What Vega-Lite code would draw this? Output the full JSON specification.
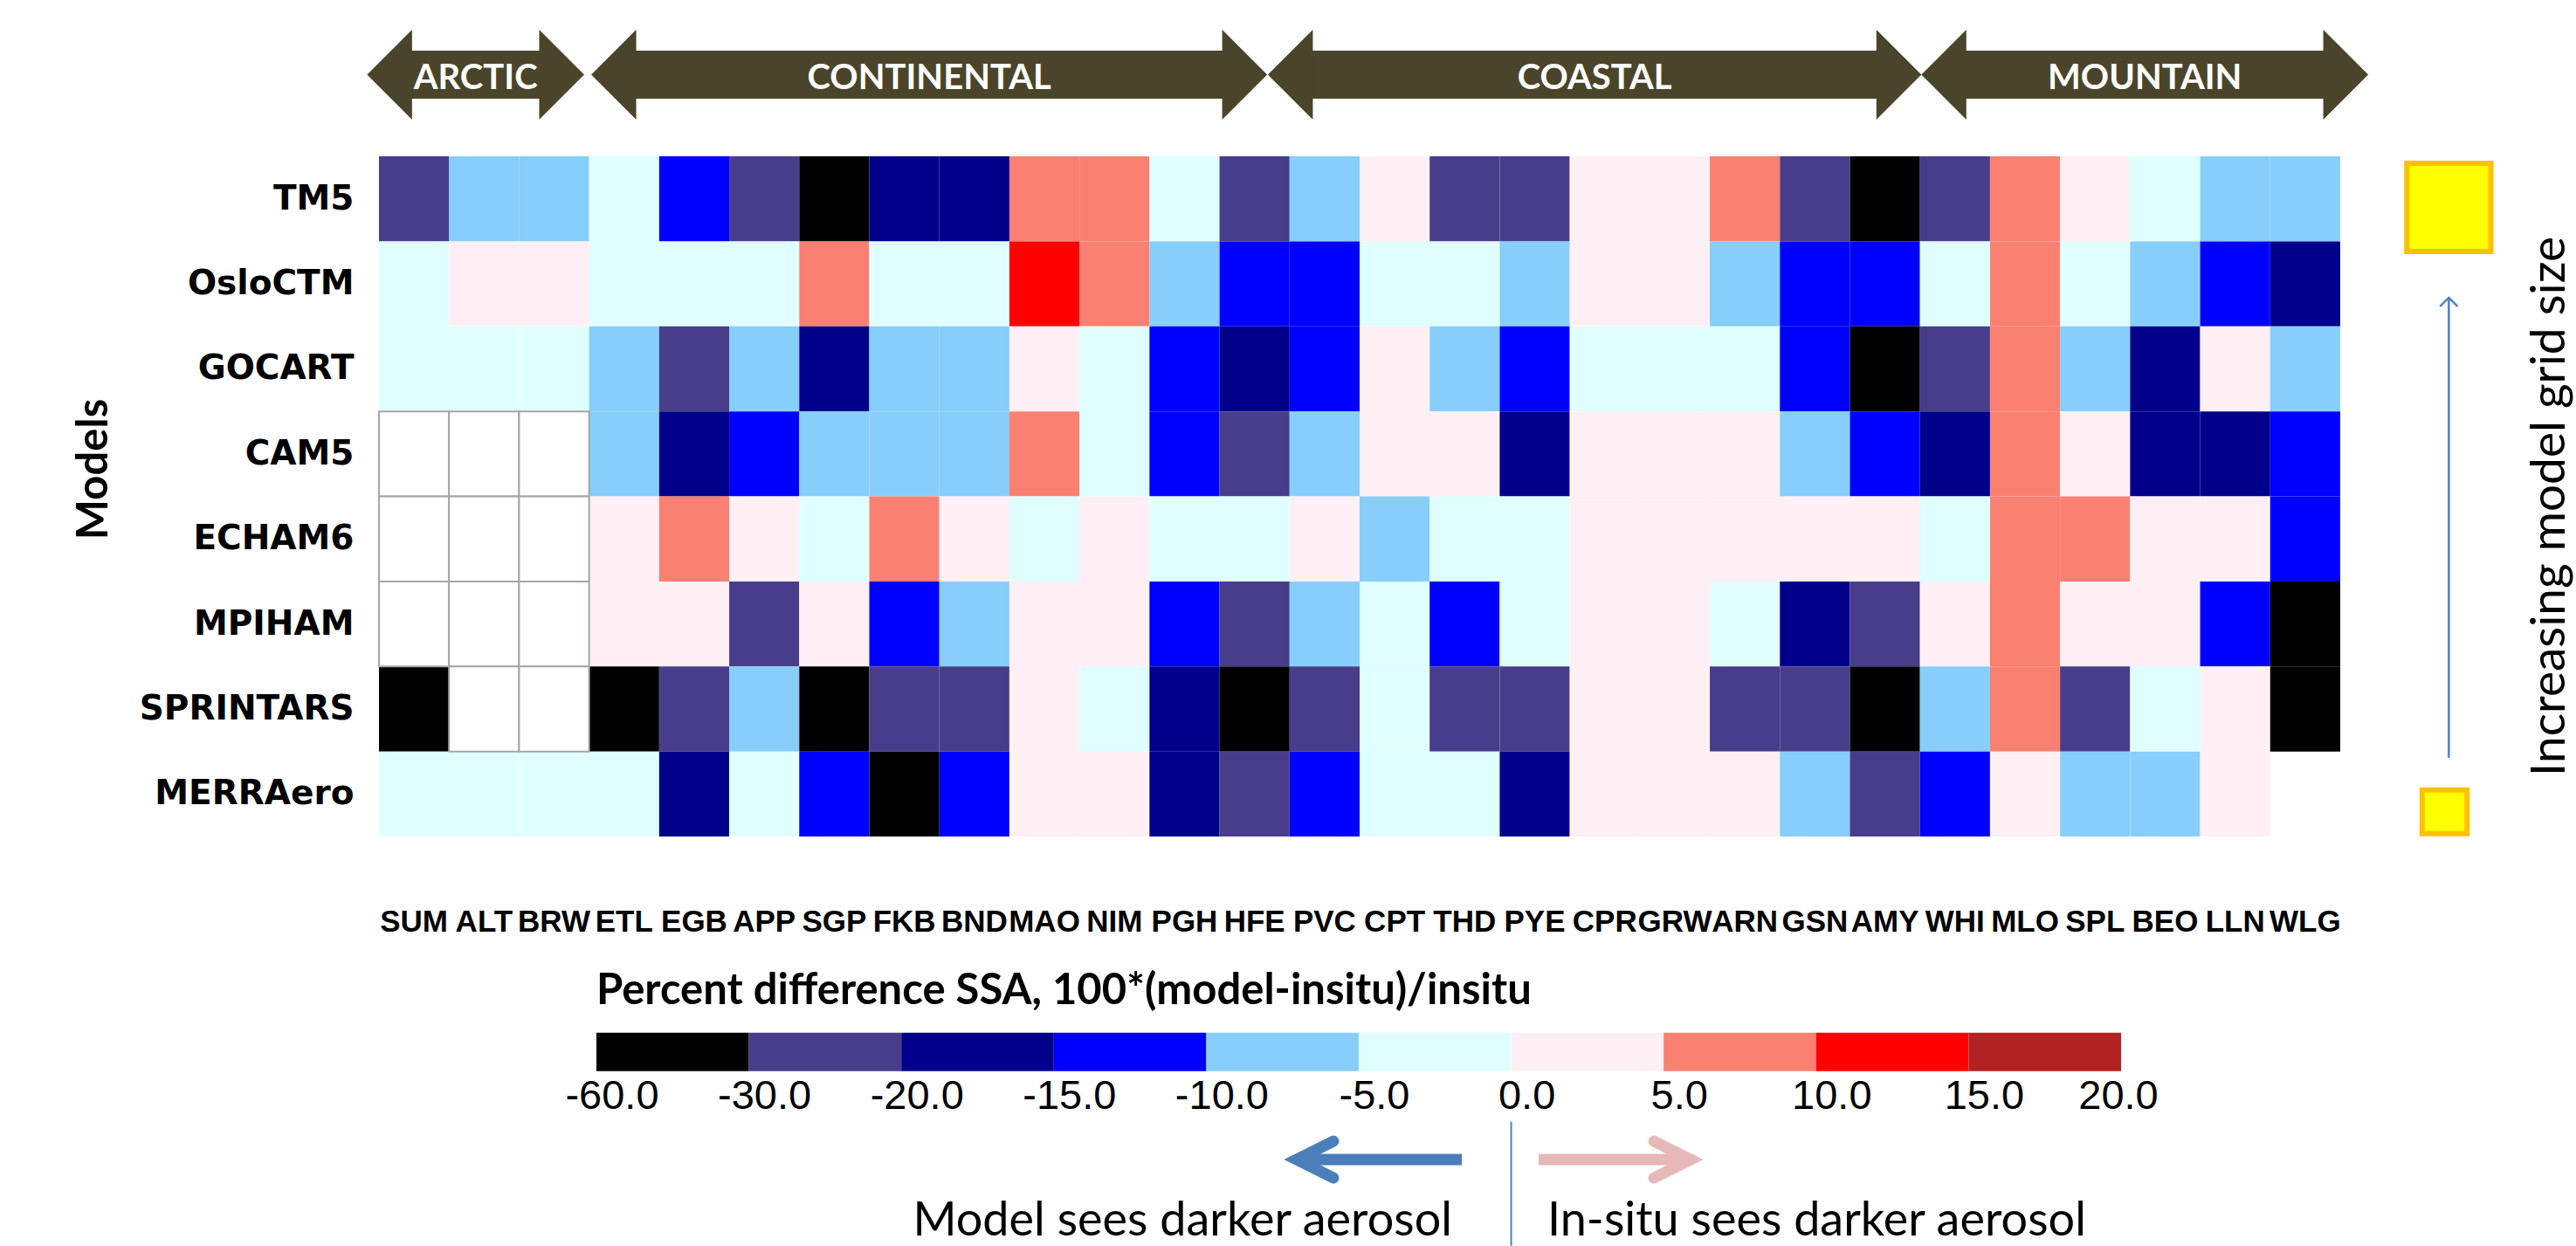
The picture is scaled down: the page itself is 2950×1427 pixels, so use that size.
{
"$schema": "https://vega.github.io/schema/vega-lite/v6.json",
"width": 2246,
"height": 779,
"autosize": {"type": "none"},
"padding": {"left": 434, "top": 179, "right": 270, "bottom": 469},
"background": "white",
"config": {"view": {"stroke": null}},
"resolve": {"scale": {"x": "independent", "y": "independent", "color": "independent"}},
"layer": [
{
"data": {"values": [
{"model":"TM5","station":"SUM","pct":-25},{"model":"TM5","station":"ALT","pct":-7},{"model":"TM5","station":"BRW","pct":-7},{"model":"TM5","station":"ETL","pct":-2},{"model":"TM5","station":"EGB","pct":-12},{"model":"TM5","station":"APP","pct":-25},{"model":"TM5","station":"SGP","pct":-40},{"model":"TM5","station":"FKB","pct":-17},{"model":"TM5","station":"BND","pct":-17},{"model":"TM5","station":"MAO","pct":7},{"model":"TM5","station":"NIM","pct":7},{"model":"TM5","station":"PGH","pct":-2},{"model":"TM5","station":"HFE","pct":-25},{"model":"TM5","station":"PVC","pct":-7},{"model":"TM5","station":"CPT","pct":2},{"model":"TM5","station":"THD","pct":-25},{"model":"TM5","station":"PYE","pct":-25},{"model":"TM5","station":"CPR","pct":2},{"model":"TM5","station":"GRW","pct":2},{"model":"TM5","station":"ARN","pct":7},{"model":"TM5","station":"GSN","pct":-25},{"model":"TM5","station":"AMY","pct":-40},{"model":"TM5","station":"WHI","pct":-25},{"model":"TM5","station":"MLO","pct":7},{"model":"TM5","station":"SPL","pct":2},{"model":"TM5","station":"BEO","pct":-2},{"model":"TM5","station":"LLN","pct":-7},{"model":"TM5","station":"WLG","pct":-7},
{"model":"OsloCTM","station":"SUM","pct":-2},{"model":"OsloCTM","station":"ALT","pct":2},{"model":"OsloCTM","station":"BRW","pct":2},{"model":"OsloCTM","station":"ETL","pct":-2},{"model":"OsloCTM","station":"EGB","pct":-2},{"model":"OsloCTM","station":"APP","pct":-2},{"model":"OsloCTM","station":"SGP","pct":7},{"model":"OsloCTM","station":"FKB","pct":-2},{"model":"OsloCTM","station":"BND","pct":-2},{"model":"OsloCTM","station":"MAO","pct":12},{"model":"OsloCTM","station":"NIM","pct":7},{"model":"OsloCTM","station":"PGH","pct":-7},{"model":"OsloCTM","station":"HFE","pct":-12},{"model":"OsloCTM","station":"PVC","pct":-12},{"model":"OsloCTM","station":"CPT","pct":-2},{"model":"OsloCTM","station":"THD","pct":-2},{"model":"OsloCTM","station":"PYE","pct":-7},{"model":"OsloCTM","station":"CPR","pct":2},{"model":"OsloCTM","station":"GRW","pct":2},{"model":"OsloCTM","station":"ARN","pct":-7},{"model":"OsloCTM","station":"GSN","pct":-12},{"model":"OsloCTM","station":"AMY","pct":-12},{"model":"OsloCTM","station":"WHI","pct":-2},{"model":"OsloCTM","station":"MLO","pct":7},{"model":"OsloCTM","station":"SPL","pct":-2},{"model":"OsloCTM","station":"BEO","pct":-7},{"model":"OsloCTM","station":"LLN","pct":-12},{"model":"OsloCTM","station":"WLG","pct":-17},
{"model":"GOCART","station":"SUM","pct":-2},{"model":"GOCART","station":"ALT","pct":-2},{"model":"GOCART","station":"BRW","pct":-2},{"model":"GOCART","station":"ETL","pct":-7},{"model":"GOCART","station":"EGB","pct":-25},{"model":"GOCART","station":"APP","pct":-7},{"model":"GOCART","station":"SGP","pct":-17},{"model":"GOCART","station":"FKB","pct":-7},{"model":"GOCART","station":"BND","pct":-7},{"model":"GOCART","station":"MAO","pct":2},{"model":"GOCART","station":"NIM","pct":-2},{"model":"GOCART","station":"PGH","pct":-12},{"model":"GOCART","station":"HFE","pct":-17},{"model":"GOCART","station":"PVC","pct":-12},{"model":"GOCART","station":"CPT","pct":2},{"model":"GOCART","station":"THD","pct":-7},{"model":"GOCART","station":"PYE","pct":-12},{"model":"GOCART","station":"CPR","pct":-2},{"model":"GOCART","station":"GRW","pct":-2},{"model":"GOCART","station":"ARN","pct":-2},{"model":"GOCART","station":"GSN","pct":-12},{"model":"GOCART","station":"AMY","pct":-40},{"model":"GOCART","station":"WHI","pct":-25},{"model":"GOCART","station":"MLO","pct":7},{"model":"GOCART","station":"SPL","pct":-7},{"model":"GOCART","station":"BEO","pct":-17},{"model":"GOCART","station":"LLN","pct":2},{"model":"GOCART","station":"WLG","pct":-7},
{"model":"CAM5","station":"SUM","pct":null},{"model":"CAM5","station":"ALT","pct":null},{"model":"CAM5","station":"BRW","pct":null},{"model":"CAM5","station":"ETL","pct":-7},{"model":"CAM5","station":"EGB","pct":-17},{"model":"CAM5","station":"APP","pct":-12},{"model":"CAM5","station":"SGP","pct":-7},{"model":"CAM5","station":"FKB","pct":-7},{"model":"CAM5","station":"BND","pct":-7},{"model":"CAM5","station":"MAO","pct":7},{"model":"CAM5","station":"NIM","pct":-2},{"model":"CAM5","station":"PGH","pct":-12},{"model":"CAM5","station":"HFE","pct":-25},{"model":"CAM5","station":"PVC","pct":-7},{"model":"CAM5","station":"CPT","pct":2},{"model":"CAM5","station":"THD","pct":2},{"model":"CAM5","station":"PYE","pct":-17},{"model":"CAM5","station":"CPR","pct":2},{"model":"CAM5","station":"GRW","pct":2},{"model":"CAM5","station":"ARN","pct":2},{"model":"CAM5","station":"GSN","pct":-7},{"model":"CAM5","station":"AMY","pct":-12},{"model":"CAM5","station":"WHI","pct":-17},{"model":"CAM5","station":"MLO","pct":7},{"model":"CAM5","station":"SPL","pct":2},{"model":"CAM5","station":"BEO","pct":-17},{"model":"CAM5","station":"LLN","pct":-17},{"model":"CAM5","station":"WLG","pct":-12},
{"model":"ECHAM6","station":"SUM","pct":null},{"model":"ECHAM6","station":"ALT","pct":null},{"model":"ECHAM6","station":"BRW","pct":null},{"model":"ECHAM6","station":"ETL","pct":2},{"model":"ECHAM6","station":"EGB","pct":7},{"model":"ECHAM6","station":"APP","pct":2},{"model":"ECHAM6","station":"SGP","pct":-2},{"model":"ECHAM6","station":"FKB","pct":7},{"model":"ECHAM6","station":"BND","pct":2},{"model":"ECHAM6","station":"MAO","pct":-2},{"model":"ECHAM6","station":"NIM","pct":2},{"model":"ECHAM6","station":"PGH","pct":-2},{"model":"ECHAM6","station":"HFE","pct":-2},{"model":"ECHAM6","station":"PVC","pct":2},{"model":"ECHAM6","station":"CPT","pct":-7},{"model":"ECHAM6","station":"THD","pct":-2},{"model":"ECHAM6","station":"PYE","pct":-2},{"model":"ECHAM6","station":"CPR","pct":2},{"model":"ECHAM6","station":"GRW","pct":2},{"model":"ECHAM6","station":"ARN","pct":2},{"model":"ECHAM6","station":"GSN","pct":2},{"model":"ECHAM6","station":"AMY","pct":2},{"model":"ECHAM6","station":"WHI","pct":-2},{"model":"ECHAM6","station":"MLO","pct":7},{"model":"ECHAM6","station":"SPL","pct":7},{"model":"ECHAM6","station":"BEO","pct":2},{"model":"ECHAM6","station":"LLN","pct":2},{"model":"ECHAM6","station":"WLG","pct":-12},
{"model":"MPIHAM","station":"SUM","pct":null},{"model":"MPIHAM","station":"ALT","pct":null},{"model":"MPIHAM","station":"BRW","pct":null},{"model":"MPIHAM","station":"ETL","pct":2},{"model":"MPIHAM","station":"EGB","pct":2},{"model":"MPIHAM","station":"APP","pct":-25},{"model":"MPIHAM","station":"SGP","pct":2},{"model":"MPIHAM","station":"FKB","pct":-12},{"model":"MPIHAM","station":"BND","pct":-7},{"model":"MPIHAM","station":"MAO","pct":2},{"model":"MPIHAM","station":"NIM","pct":2},{"model":"MPIHAM","station":"PGH","pct":-12},{"model":"MPIHAM","station":"HFE","pct":-25},{"model":"MPIHAM","station":"PVC","pct":-7},{"model":"MPIHAM","station":"CPT","pct":-2},{"model":"MPIHAM","station":"THD","pct":-12},{"model":"MPIHAM","station":"PYE","pct":-2},{"model":"MPIHAM","station":"CPR","pct":2},{"model":"MPIHAM","station":"GRW","pct":2},{"model":"MPIHAM","station":"ARN","pct":-2},{"model":"MPIHAM","station":"GSN","pct":-17},{"model":"MPIHAM","station":"AMY","pct":-25},{"model":"MPIHAM","station":"WHI","pct":2},{"model":"MPIHAM","station":"MLO","pct":7},{"model":"MPIHAM","station":"SPL","pct":2},{"model":"MPIHAM","station":"BEO","pct":2},{"model":"MPIHAM","station":"LLN","pct":-12},{"model":"MPIHAM","station":"WLG","pct":-40},
{"model":"SPRINTARS","station":"SUM","pct":-40},{"model":"SPRINTARS","station":"ALT","pct":null},{"model":"SPRINTARS","station":"BRW","pct":null},{"model":"SPRINTARS","station":"ETL","pct":-40},{"model":"SPRINTARS","station":"EGB","pct":-25},{"model":"SPRINTARS","station":"APP","pct":-7},{"model":"SPRINTARS","station":"SGP","pct":-40},{"model":"SPRINTARS","station":"FKB","pct":-25},{"model":"SPRINTARS","station":"BND","pct":-25},{"model":"SPRINTARS","station":"MAO","pct":2},{"model":"SPRINTARS","station":"NIM","pct":-2},{"model":"SPRINTARS","station":"PGH","pct":-17},{"model":"SPRINTARS","station":"HFE","pct":-40},{"model":"SPRINTARS","station":"PVC","pct":-25},{"model":"SPRINTARS","station":"CPT","pct":-2},{"model":"SPRINTARS","station":"THD","pct":-25},{"model":"SPRINTARS","station":"PYE","pct":-25},{"model":"SPRINTARS","station":"CPR","pct":2},{"model":"SPRINTARS","station":"GRW","pct":2},{"model":"SPRINTARS","station":"ARN","pct":-25},{"model":"SPRINTARS","station":"GSN","pct":-25},{"model":"SPRINTARS","station":"AMY","pct":-40},{"model":"SPRINTARS","station":"WHI","pct":-7},{"model":"SPRINTARS","station":"MLO","pct":7},{"model":"SPRINTARS","station":"SPL","pct":-25},{"model":"SPRINTARS","station":"BEO","pct":-2},{"model":"SPRINTARS","station":"LLN","pct":2},{"model":"SPRINTARS","station":"WLG","pct":-40},
{"model":"MERRAero","station":"SUM","pct":-2},{"model":"MERRAero","station":"ALT","pct":-2},{"model":"MERRAero","station":"BRW","pct":-2},{"model":"MERRAero","station":"ETL","pct":-2},{"model":"MERRAero","station":"EGB","pct":-17},{"model":"MERRAero","station":"APP","pct":-2},{"model":"MERRAero","station":"SGP","pct":-12},{"model":"MERRAero","station":"FKB","pct":-40},{"model":"MERRAero","station":"BND","pct":-12},{"model":"MERRAero","station":"MAO","pct":2},{"model":"MERRAero","station":"NIM","pct":2},{"model":"MERRAero","station":"PGH","pct":-17},{"model":"MERRAero","station":"HFE","pct":-25},{"model":"MERRAero","station":"PVC","pct":-12},{"model":"MERRAero","station":"CPT","pct":-2},{"model":"MERRAero","station":"THD","pct":-2},{"model":"MERRAero","station":"PYE","pct":-17},{"model":"MERRAero","station":"CPR","pct":2},{"model":"MERRAero","station":"GRW","pct":2},{"model":"MERRAero","station":"ARN","pct":2},{"model":"MERRAero","station":"GSN","pct":-7},{"model":"MERRAero","station":"AMY","pct":-25},{"model":"MERRAero","station":"WHI","pct":-12},{"model":"MERRAero","station":"MLO","pct":2},{"model":"MERRAero","station":"SPL","pct":-7},{"model":"MERRAero","station":"BEO","pct":-7},{"model":"MERRAero","station":"LLN","pct":2}
]},
"layer": [
{
"transform": [{"filter": "isValid(datum.pct)"}],
"mark": {"type": "rect"},
"encoding": {
"x": {"field": "station", "type": "nominal", "scale": {"domain": ["SUM","ALT","BRW","ETL","EGB","APP","SGP","FKB","BND","MAO","NIM","PGH","HFE","PVC","CPT","THD","PYE","CPR","GRW","ARN","GSN","AMY","WHI","MLO","SPL","BEO","LLN","WLG"], "paddingInner": 0, "paddingOuter": 0}, "axis": {"orient": "bottom", "title": null, "ticks": false, "tickSize": 0, "domain": false, "grid": false, "labelAngle": 0, "labelFont": "Liberation Sans", "labelFontWeight": "bold", "labelFontSize": 35, "labelColor": "#000000", "labelPadding": 80, "labelOverlap": false, "labelBound": false, "labelLimit": 400}},
"y": {"field": "model", "type": "nominal", "scale": {"domain": ["TM5","OsloCTM","GOCART","CAM5","ECHAM6","MPIHAM","SPRINTARS","MERRAero"], "paddingInner": 0, "paddingOuter": 0}, "axis": {"orient": "left", "title": "Models", "ticks": false, "tickSize": 0, "domain": false, "grid": false, "labelFont": "DejaVu Sans", "labelFontWeight": "bold", "labelFontSize": 39, "labelColor": "#000000", "labelPadding": 29, "labelLimit": 600, "titleFont": "Lato", "titleFontWeight": "bold", "titleFontSize": 49, "titleColor": "#000000", "titleAngle": 270, "titleX": -312, "titleY": 358, "titleAlign": "center", "titleBaseline": "alphabetic"}},
"color": {"field": "pct", "type": "quantitative", "scale": {"type": "threshold", "domain": [-30,-20,-15,-10,-5,0,5,10,15], "range": ["#000000","#483D8B","#00008B","#0000FF","#87CEFA","#E0FFFF","#FFF0F5","#FA8072","#FF0000","#B22222"]}, "legend": null}
}
},
{
"transform": [{"filter": "!isValid(datum.pct)"}],
"mark": {"type": "rect", "fill": "#ffffff", "stroke": "#a6a6a6", "strokeWidth": 2},
"encoding": {
"x": {"field": "station", "type": "nominal", "scale": {"domain": ["SUM","ALT","BRW","ETL","EGB","APP","SGP","FKB","BND","MAO","NIM","PGH","HFE","PVC","CPT","THD","PYE","CPR","GRW","ARN","GSN","AMY","WHI","MLO","SPL","BEO","LLN","WLG"], "paddingInner": 0, "paddingOuter": 0}, "axis": {"orient": "bottom", "title": null, "ticks": false, "tickSize": 0, "domain": false, "grid": false, "labelAngle": 0, "labelFont": "Liberation Sans", "labelFontWeight": "bold", "labelFontSize": 35, "labelColor": "#000000", "labelPadding": 80, "labelOverlap": false, "labelBound": false, "labelLimit": 400}},
"y": {"field": "model", "type": "nominal", "scale": {"domain": ["TM5","OsloCTM","GOCART","CAM5","ECHAM6","MPIHAM","SPRINTARS","MERRAero"], "paddingInner": 0, "paddingOuter": 0}, "axis": {"orient": "left", "title": "Models", "ticks": false, "tickSize": 0, "domain": false, "grid": false, "labelFont": "DejaVu Sans", "labelFontWeight": "bold", "labelFontSize": 39, "labelColor": "#000000", "labelPadding": 29, "labelLimit": 600, "titleFont": "Lato", "titleFontWeight": "bold", "titleFontSize": 49, "titleColor": "#000000", "titleAngle": 270, "titleX": -312, "titleY": 358, "titleAlign": "center", "titleBaseline": "alphabetic"}}
}
}
]
},
{
"layer": [
{
"data": {"values": [{"region":"ARCTIC","start":-0.17,"end":2.93},{"region":"CONTINENTAL","start":3.03,"end":12.68},{"region":"COASTAL","start":12.69,"end":22.02},{"region":"MOUNTAIN","start":22.02,"end":28.4}]},
"mark": {"type": "rect", "color": "#4A452A", "xOffset": 50, "x2Offset": -50},
"encoding": {
"x": {"field": "start", "type": "quantitative", "scale": {"domain": [0, 28], "range": [0, 2246], "nice": false, "zero": false}, "axis": null},
"x2": {"field": "end"},
"y": {"datum": -1.242, "type": "quantitative", "scale": {"domain": [0, 8], "range": [0, 779], "nice": false, "zero": false}, "axis": null},
"y2": {"datum": -0.678}
}
},
{
"data": {"values": [{"region":"ARCTIC","start":-0.17,"end":2.93},{"region":"CONTINENTAL","start":3.03,"end":12.68},{"region":"COASTAL","start":12.69,"end":22.02},{"region":"MOUNTAIN","start":22.02,"end":28.4}]},
"mark": {"type": "point", "shape": "M0,0L1,-1L1,1Z", "size": 10609, "filled": true, "color": "#4A452A", "opacity": 1, "strokeWidth": 0},
"encoding": {
"x": {"field": "start", "type": "quantitative", "scale": {"domain": [0, 28], "range": [0, 2246], "nice": false, "zero": false}, "axis": null},
"y": {"datum": -0.96, "type": "quantitative", "scale": {"domain": [0, 8], "range": [0, 779], "nice": false, "zero": false}, "axis": null}
}
},
{
"data": {"values": [{"region":"ARCTIC","start":-0.17,"end":2.93},{"region":"CONTINENTAL","start":3.03,"end":12.68},{"region":"COASTAL","start":12.69,"end":22.02},{"region":"MOUNTAIN","start":22.02,"end":28.4}]},
"mark": {"type": "point", "shape": "M0,0L-1,-1L-1,1Z", "size": 10609, "filled": true, "color": "#4A452A", "opacity": 1, "strokeWidth": 0},
"encoding": {
"x": {"field": "end", "type": "quantitative", "scale": {"domain": [0, 28], "range": [0, 2246], "nice": false, "zero": false}, "axis": null},
"y": {"datum": -0.96, "type": "quantitative", "scale": {"domain": [0, 8], "range": [0, 779], "nice": false, "zero": false}, "axis": null}
}
},
{
"data": {"values": [{"region":"ARCTIC","start":-0.17,"end":2.93},{"region":"CONTINENTAL","start":3.03,"end":12.68},{"region":"COASTAL","start":12.69,"end":22.02},{"region":"MOUNTAIN","start":22.02,"end":28.4}]},
"transform": [{"fold": ["start", "end"], "as": ["edge", "pos"]}],
"mark": {"type": "text", "font": "Lato", "fontWeight": "bold", "fontSize": 40, "color": "#ffffff", "align": "center", "baseline": "alphabetic"},
"encoding": {
"x": {"aggregate": "mean", "field": "pos", "type": "quantitative", "scale": {"domain": [0, 28], "range": [0, 2246], "nice": false, "zero": false}, "axis": null},
"y": {"datum": -0.794, "type": "quantitative", "scale": {"domain": [0, 8], "range": [0, 779], "nice": false, "zero": false}, "axis": null},
"text": {"field": "region", "type": "nominal"}
}
},
{
"data": {"values": [{"marker": "coarse model grid"}]},
"mark": {"type": "rect", "fill": "#FFFF00", "stroke": "#FFC000", "strokeWidth": 6},
"encoding": {
"x": {"datum": 28.95, "type": "quantitative", "scale": {"domain": [0, 28], "range": [0, 2246], "nice": false, "zero": false}, "axis": null},
"x2": {"datum": 30.15},
"y": {"datum": 0.082, "type": "quantitative", "scale": {"domain": [0, 8], "range": [0, 779], "nice": false, "zero": false}, "axis": null},
"y2": {"datum": 1.119}
}
},
{
"data": {"values": [{"marker": "fine model grid"}]},
"mark": {"type": "rect", "fill": "#FFFF00", "stroke": "#FFC000", "strokeWidth": 6},
"encoding": {
"x": {"datum": 29.17, "type": "quantitative", "scale": {"domain": [0, 28], "range": [0, 2246], "nice": false, "zero": false}, "axis": null},
"x2": {"datum": 29.81},
"y": {"datum": 7.454, "type": "quantitative", "scale": {"domain": [0, 8], "range": [0, 779], "nice": false, "zero": false}, "axis": null},
"y2": {"datum": 7.967}
}
},
{
"data": {"values": [{"marker": "grid size arrow"}]},
"mark": {"type": "rule", "color": "#4F81BD", "strokeWidth": 2.5},
"encoding": {
"x": {"datum": 29.55, "type": "quantitative", "scale": {"domain": [0, 28], "range": [0, 2246], "nice": false, "zero": false}, "axis": null},
"y": {"datum": 7.074, "type": "quantitative", "scale": {"domain": [0, 8], "range": [0, 779], "nice": false, "zero": false}, "axis": null},
"y2": {"datum": 1.663}
}
},
{
"data": {"values": [{"marker": "grid size arrow head"}]},
"mark": {"type": "point", "shape": "M-1,1L0,0L1,1", "size": 400, "filled": false, "stroke": "#4F81BD", "strokeWidth": 2.5, "opacity": 1},
"encoding": {
"x": {"datum": 29.55, "type": "quantitative", "scale": {"domain": [0, 28], "range": [0, 2246], "nice": false, "zero": false}, "axis": null},
"y": {"datum": 1.663, "type": "quantitative", "scale": {"domain": [0, 8], "range": [0, 779], "nice": false, "zero": false}, "axis": null}
}
},
{
"data": {"values": [{"label": "Increasing model grid size"}]},
"mark": {"type": "text", "angle": 270, "font": "Lato", "fontSize": 55, "color": "#000000", "align": "center", "baseline": "alphabetic"},
"encoding": {
"x": {"datum": 31.2, "type": "quantitative", "scale": {"domain": [0, 28], "range": [0, 2246], "nice": false, "zero": false}, "axis": null},
"y": {"datum": 4.117, "type": "quantitative", "scale": {"domain": [0, 8], "range": [0, 779], "nice": false, "zero": false}, "axis": null},
"text": {"field": "label", "type": "nominal"}
}
}
]
},
{
"data": {"values": [{"lower":"-60.0","upper":"-30.0","mid":-45},{"lower":"-30.0","upper":"-20.0","mid":-25},{"lower":"-20.0","upper":"-15.0","mid":-17.5},{"lower":"-15.0","upper":"-10.0","mid":-12.5},{"lower":"-10.0","upper":"-5.0","mid":-7.5},{"lower":"-5.0","upper":"0.0","mid":-2.5},{"lower":"0.0","upper":"5.0","mid":2.5},{"lower":"5.0","upper":"10.0","mid":7.5},{"lower":"10.0","upper":"15.0","mid":12.5},{"lower":"15.0","upper":"20.0","mid":17.5}]},
"layer": [
{
"mark": {"type": "rect"},
"encoding": {
"x": {"field": "lower", "type": "nominal", "scale": {"domain": ["-60.0","-30.0","-20.0","-15.0","-10.0","-5.0","0.0","5.0","10.0","15.0"], "range": [249, 1995], "paddingInner": 0, "paddingOuter": 0}, "axis": null},
"y": {"datum": 10.308, "type": "quantitative", "scale": {"domain": [0, 8], "range": [0, 779], "nice": false, "zero": false}, "axis": null},
"y2": {"datum": 10.76},
"color": {"field": "mid", "type": "quantitative", "scale": {"type": "threshold", "domain": [-30,-20,-15,-10,-5,0,5,10,15], "range": ["#000000","#483D8B","#00008B","#0000FF","#87CEFA","#E0FFFF","#FFF0F5","#FA8072","#FF0000","#B22222"]}, "legend": null}
}
},
{
"mark": {"type": "text", "font": "Liberation Sans", "fontSize": 47, "color": "#000000", "align": "center", "baseline": "alphabetic", "dx": 18},
"encoding": {
"x": {"field": "lower", "type": "nominal", "bandPosition": 0, "scale": {"domain": ["-60.0","-30.0","-20.0","-15.0","-10.0","-5.0","0.0","5.0","10.0","15.0"], "range": [249, 1995], "paddingInner": 0, "paddingOuter": 0}, "axis": null},
"y": {"datum": 11.2, "type": "quantitative", "scale": {"domain": [0, 8], "range": [0, 779], "nice": false, "zero": false}, "axis": null},
"text": {"field": "lower", "type": "nominal"}
}
},
{
"transform": [{"filter": "datum.upper == '20.0'"}],
"mark": {"type": "text", "font": "Liberation Sans", "fontSize": 47, "color": "#000000", "align": "center", "baseline": "alphabetic", "dx": -3},
"encoding": {
"x": {"field": "lower", "type": "nominal", "bandPosition": 1, "scale": {"domain": ["-60.0","-30.0","-20.0","-15.0","-10.0","-5.0","0.0","5.0","10.0","15.0"], "range": [249, 1995], "paddingInner": 0, "paddingOuter": 0}, "axis": null},
"y": {"datum": 11.2, "type": "quantitative", "scale": {"domain": [0, 8], "range": [0, 779], "nice": false, "zero": false}, "axis": null},
"text": {"field": "upper", "type": "nominal"}
}
}
]
},
{
"layer": [
{
"data": {"values": [{"label": "Percent difference SSA, 100*(model-insitu)/insitu"}]},
"mark": {"type": "text", "font": "Lato", "fontWeight": "bold", "fontSize": 49, "color": "#000000", "align": "left", "baseline": "alphabetic"},
"encoding": {
"x": {"datum": 0, "type": "quantitative", "scale": {"domain": [0, 10], "range": [249, 1995], "nice": false, "zero": false}, "axis": null},
"y": {"datum": 9.969, "type": "quantitative", "scale": {"domain": [0, 8], "range": [0, 779], "nice": false, "zero": false}, "axis": null},
"text": {"field": "label", "type": "nominal"}
}
},
{
"data": {"values": [{"marker": "zero difference divider"}]},
"mark": {"type": "rule", "color": "#4F81BD", "strokeWidth": 2},
"encoding": {
"x": {"datum": 6, "type": "quantitative", "scale": {"domain": [0, 10], "range": [249, 1995], "nice": false, "zero": false}, "axis": null},
"y": {"datum": 11.355, "type": "quantitative", "scale": {"domain": [0, 8], "range": [0, 779], "nice": false, "zero": false}, "axis": null},
"y2": {"datum": 12.813}
}
},
{
"data": {"values": [{"direction": "model sees darker"}]},
"mark": {"type": "rule", "color": "#4A7EBB", "strokeWidth": 13, "strokeCap": "butt"},
"encoding": {
"x": {"datum": 4.65, "type": "quantitative", "scale": {"domain": [0, 10], "range": [249, 1995], "nice": false, "zero": false}, "axis": null},
"x2": {"datum": 5.676},
"y": {"datum": 11.8, "type": "quantitative", "scale": {"domain": [0, 8], "range": [0, 779], "nice": false, "zero": false}, "axis": null}
}
},
{
"data": {"values": [{"direction": "model sees darker"}]},
"mark": {"type": "point", "shape": "M2,-1L0,0L2,1", "size": 1764, "filled": false, "stroke": "#4A7EBB", "strokeWidth": 13, "strokeCap": "round", "strokeJoin": "miter", "opacity": 1},
"encoding": {
"x": {"datum": 4.593, "type": "quantitative", "scale": {"domain": [0, 10], "range": [249, 1995], "nice": false, "zero": false}, "axis": null},
"y": {"datum": 11.8, "type": "quantitative", "scale": {"domain": [0, 8], "range": [0, 779], "nice": false, "zero": false}, "axis": null}
}
},
{
"data": {"values": [{"direction": "in-situ sees darker"}]},
"mark": {"type": "rule", "color": "#E6B9B8", "strokeWidth": 13, "strokeCap": "butt"},
"encoding": {
"x": {"datum": 6.18, "type": "quantitative", "scale": {"domain": [0, 10], "range": [249, 1995], "nice": false, "zero": false}, "axis": null},
"x2": {"datum": 7.13},
"y": {"datum": 11.8, "type": "quantitative", "scale": {"domain": [0, 8], "range": [0, 779], "nice": false, "zero": false}, "axis": null}
}
},
{
"data": {"values": [{"direction": "in-situ sees darker"}]},
"mark": {"type": "point", "shape": "M-2,-1L0,0L-2,1", "size": 1764, "filled": false, "stroke": "#E6B9B8", "strokeWidth": 13, "strokeCap": "round", "strokeJoin": "miter", "opacity": 1},
"encoding": {
"x": {"datum": 7.177, "type": "quantitative", "scale": {"domain": [0, 10], "range": [249, 1995], "nice": false, "zero": false}, "axis": null},
"y": {"datum": 11.8, "type": "quantitative", "scale": {"domain": [0, 8], "range": [0, 779], "nice": false, "zero": false}, "axis": null}
}
},
{
"data": {"values": [{"label": "Model sees darker aerosol"}]},
"mark": {"type": "text", "font": "Lato", "fontSize": 54, "color": "#000000", "align": "right", "baseline": "alphabetic"},
"encoding": {
"x": {"datum": 5.613, "type": "quantitative", "scale": {"domain": [0, 10], "range": [249, 1995], "nice": false, "zero": false}, "axis": null},
"y": {"datum": 12.69, "type": "quantitative", "scale": {"domain": [0, 8], "range": [0, 779], "nice": false, "zero": false}, "axis": null},
"text": {"field": "label", "type": "nominal"}
}
},
{
"data": {"values": [{"label": "In-situ sees darker aerosol"}]},
"mark": {"type": "text", "font": "Lato", "fontSize": 54, "color": "#000000", "align": "left", "baseline": "alphabetic"},
"encoding": {
"x": {"datum": 6.237, "type": "quantitative", "scale": {"domain": [0, 10], "range": [249, 1995], "nice": false, "zero": false}, "axis": null},
"y": {"datum": 12.69, "type": "quantitative", "scale": {"domain": [0, 8], "range": [0, 779], "nice": false, "zero": false}, "axis": null},
"text": {"field": "label", "type": "nominal"}
}
}
]
}
]
}
